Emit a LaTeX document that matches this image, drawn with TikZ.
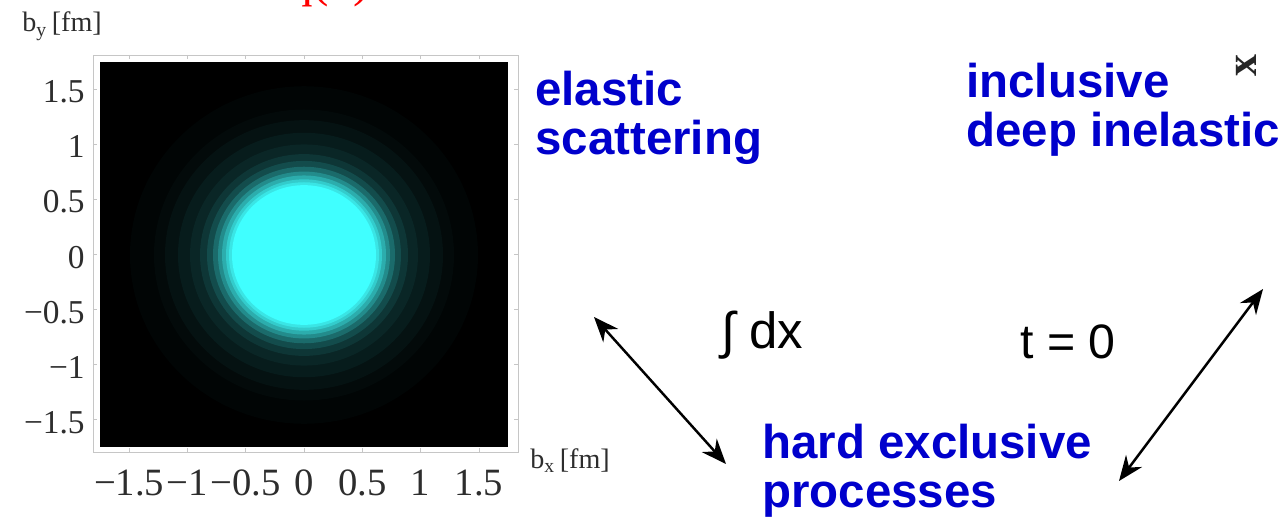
\documentclass[tikz,border=0pt]{standalone}
\usepackage{fontspec}
\setmainfont{Liberation Serif}
\setsansfont{Liberation Sans}
\usetikzlibrary{positioning, arrows.meta}

\definecolor{procblue}{RGB}{0,0,204}
\definecolor{blobcyan}{RGB}{64,255,255}
\definecolor{labelgray}{RGB}{45,45,45}

\begin{document}
\begin{tikzpicture}[x=0.02cm, y=-0.02cm,
    proc/.style={anchor=north west, inner sep=0pt, align=left, text=procblue,
        font=\sffamily\bfseries\fontsize{27}{27.5}\selectfont},
    rel/.style={anchor=base west, inner sep=0pt, font=\sffamily\fontsize{27.5}{28}\selectfont},
    ticklab/.style={inner sep=0pt, text=labelgray, font=\fontsize{19}{19}\selectfont},
    axlab/.style={anchor=base west, inner sep=0pt, text=labelgray, font=\fontsize{16}{16}\selectfont},
    link/.style={{Stealth[length=0.5cm, width=0.4cm]}-{Stealth[length=0.5cm, width=0.4cm]}, line width=1.4pt}]

    \useasboundingbox (0,0) rectangle (1283,520);
    \clip (0,0) rectangle (1283,520);

    \node[anchor=base west, inner sep=0pt, text=red, font=\fontsize{28}{28}\selectfont] (title) at (288,-3) {q(x)};

    % density plot
    \draw[gray!45, fill=white] (93,55) rectangle (518,452);
    \foreach \i in {1,...,7} {
        \draw[gray!45] ({304+116.6*(0.5*\i-2)},55) -- ++(0,4);
        \draw[gray!45] ({304+116.6*(0.5*\i-2)},452) -- ++(0,-4);
        \draw[gray!45] (93,{254.5+55*(\i-4)}) -- ++(4,0);
        \draw[gray!45] (518,{254.5+55*(\i-4)}) -- ++(-4,0);
    }
    \fill[black] (100,62) rectangle (508,447);
    \foreach \r/\c in {174/2, 150/4, 139/7, 126/11, 114/15, 104/21, 97/30, 91/42, 86/55, 82/68, 78/80, 75/90, 72/100}
        \fill[blobcyan!\c!black] (304,255) ellipse ({\r} and {0.97*\r});

    \foreach \lab [count=\i] in {−1.5,−1,−0.5,0,0.5,1,1.5}
        \node[ticklab, anchor=base, font=\fontsize{22}{22}\selectfont] (bx\i) at ({304+116.6*(0.5*\i-2)},495) {\lab};
    \foreach \lab [count=\i] in {1.5,1,0.5,0,−0.5,−1,−1.5}
        \node[ticklab, anchor=base east] (by\i) at (85,{103+55*(\i-1)}) {\lab};
    \node[axlab] (bylabel) at (22,32) {b\textsubscript{y}\,[fm]};
    \node[axlab] (bxlabel) at (530,468) {b\textsubscript{x}\,[fm]};
    \node[rotate=90, inner sep=0pt, text=black!85, font=\bfseries\fontsize{25}{25}\selectfont] (xmark) at (1246,66) {x};

    % processes
    \node[proc] (elastic) at (535,71) {elastic\\scattering};
    \node[proc] (dis) at (966,63) {inclusive\\deep inelastic};
    \node[proc] (hard) at (762,424) {hard exclusive\\processes};

    \node[rel, font=\sffamily\fontsize{29}{29}\selectfont] (intdx) at (721,348) {∫ dx};
    \node[rel] (tzero) at (1020,358) {t = 0};

    \coordinate (elasticend) at (594,317);
    \coordinate (hardleft) at (726,464);
    \coordinate (disend) at (1263,289);
    \coordinate (hardright) at (1119,481);
    \draw[link] (elasticend) -- (hardleft);
    \draw[link] (disend) -- (hardright);

\end{tikzpicture}
\end{document}
